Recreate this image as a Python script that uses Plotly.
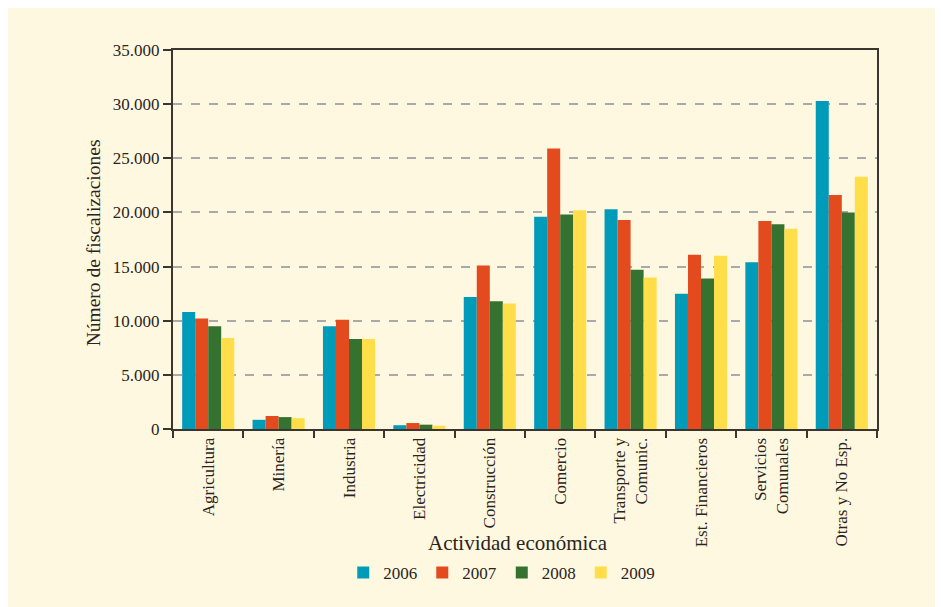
import plotly.graph_objects as go

CREMA = "#FFF8E1"
TEXTO = "#2A2420"
EJE = "#3B3530"
FUENTE = "Liberation Serif"

actividades = [
    "Agricultura", "Minería", "Industria", "Electricidad", "Construcción",
    "Comercio", "Transporte y<br>Comunic.", "Est. Financieros",
    "Servicios<br>Comunales", "Otras y No Esp.",
]
anios = ["2006", "2007", "2008", "2009"]
colores = ["#009BB8", "#E34A1E", "#36722F", "#FFDE4A"]

v2006 = [10800, 850, 9500, 350, 12200, 19600, 20300, 12500, 15400, 30300]
v2007 = [10200, 1200, 10100, 550, 15100, 25900, 19300, 16100, 19200, 21600]
v2008 = [9500, 1100, 8300, 400, 11800, 19800, 14700, 13900, 18900, 20000]
v2009 = [8400, 1000, 8300, 300, 11600, 20200, 14000, 16000, 18500, 23300]
series = [v2006, v2007, v2008, v2009]

y_ticks = [0, 5000, 10000, 15000, 20000, 25000, 30000, 35000]

fig = go.Figure()
for anio, valores, color in zip(anios, series, colores):
    fig.add_bar(x=actividades, y=valores, name=anio, marker_color=color,
                marker_line_width=0)

fig.update_layout(
    width=943,
    height=607,
    margin=dict(l=165, r=74, t=42, b=186),
    paper_bgcolor=CREMA,
    plot_bgcolor=CREMA,
    barmode="group",
    bargap=0.26,
    bargroupgap=0,
    separators=",.",
    font=dict(family=FUENTE, size=17, color=TEXTO),
    legend=dict(
        orientation="h",
        x=0.467, xanchor="center",
        y=-0.38, yanchor="middle",
        font=dict(size=17),
        bgcolor="rgba(0,0,0,0)",
    ),
    annotations=[
        dict(text="Número de fiscalizaciones", xref="paper", yref="paper",
             x=-0.1136, y=0.49, textangle=-90, showarrow=False,
             xanchor="center", yanchor="middle", font=dict(size=19.5)),
        dict(text="Actividad económica", xref="paper", yref="paper",
             x=0.49, y=-0.3008, showarrow=False,
             xanchor="center", yanchor="middle", font=dict(size=21)),
    ],
)

fig.update_xaxes(
    type="category",
    tickson="boundaries",
    ticks="outside",
    ticklen=7,
    tickwidth=2,
    tickcolor=EJE,
    tickangle=-90,
    showline=True,
    linecolor=EJE,
    linewidth=2,
    mirror=True,
    showgrid=False,
    automargin=False,
)

fig.update_yaxes(
    range=[0, 35000],
    tickvals=y_ticks,
    tickformat=",.0f",
    ticks="outside",
    ticklen=8,
    tickwidth=2,
    tickcolor=EJE,
    showline=True,
    linecolor=EJE,
    linewidth=2,
    mirror=True,
    showgrid=True,
    gridcolor="#A9A9A9",
    gridwidth=1.5,
    griddash="dash",
    zeroline=False,
    automargin=False,
)

fig.write_html("out.html")
